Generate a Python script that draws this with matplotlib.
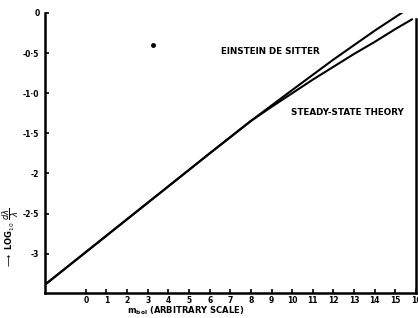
import numpy as np
import matplotlib.pyplot as plt

# Einstein-de Sitter curve
eds_m = [-2, 0, 2, 4, 6, 8, 10, 12, 14, 15.3]
eds_log = [-3.39, -2.98, -2.57, -2.16, -1.75, -1.345, -0.96, -0.58, -0.22, 0.0]

# Steady-state curve, same as EdS up to m ~ 8 then flatter
ss_m = [-2, 0, 2, 4, 6, 8, 9, 10, 11, 12, 13, 14, 15, 15.8]
ss_log = [-3.39, -2.98, -2.57, -2.16, -1.75, -1.345, -1.17, -1.0, -0.83, -0.67, -0.51, -0.36, -0.2, -0.08]

x_ticks = list(range(0, 17))
x_labels = [str(v) for v in x_ticks]
y_ticks = [0, -0.5, -1.0, -1.5, -2, -2.5, -3]
y_labels = ['0', '-0·5', '-1·0', '-1·5', '-2', '-2·5', '-3']

# stray speck on the scan
speck_m, speck_log = [3.24], [-0.40]

fig = plt.figure(figsize=(4.18, 3.18), dpi=100)
ax = fig.add_axes([45/418, 1 - 293/318, 371/418, 280/318])

ax.plot(eds_m, eds_log, color='black', lw=1.5)
ax.plot(ss_m, ss_log, color='black', lw=1.5)
ax.plot(speck_m, speck_log, 'o', color='black', ms=2.5)

ax.set_xlim(-1.98, 15.95)
ax.set_ylim(-3.49, 0.0)

ax.set_xticks(x_ticks)
ax.set_xticklabels(x_labels, fontsize=5.5, fontweight='bold')
ax.set_yticks(y_ticks)
ax.set_yticklabels(y_labels, fontsize=5.5, fontweight='bold')
ax.tick_params(direction='in', length=3, width=1.2)
ax.tick_params(axis='x', pad=2.5)
ax.tick_params(axis='y', pad=4)

for side in ['left', 'bottom', 'right']:
    ax.spines[side].set_linewidth(1.8)
ax.spines['top'].set_visible(False)
ax.spines['right'].set_bounds(-3.49, -0.08)

ax.text(6.57, -0.475, 'EINSTEIN DE SITTER', fontsize=6.3, fontweight='bold', va='center', ha='left')
ax.text(9.95, -1.24, 'STEADY-STATE THEORY', fontsize=6.3, fontweight='bold', va='center', ha='left')

fig.text(127/418, 1 - 311/318, r'$\mathbf{m_{bol}}$ (ARBITRARY SCALE)', fontsize=6, fontweight='bold',
         ha='left', va='center')
fig.text(11/418, 1 - 238/318, r'$\longrightarrow$ LOG$_{10}$ $\dfrac{d\lambda}{\lambda}$', fontsize=6,
         fontweight='bold', rotation=90, ha='center', va='center')

fig.savefig('out.png', dpi=100)
